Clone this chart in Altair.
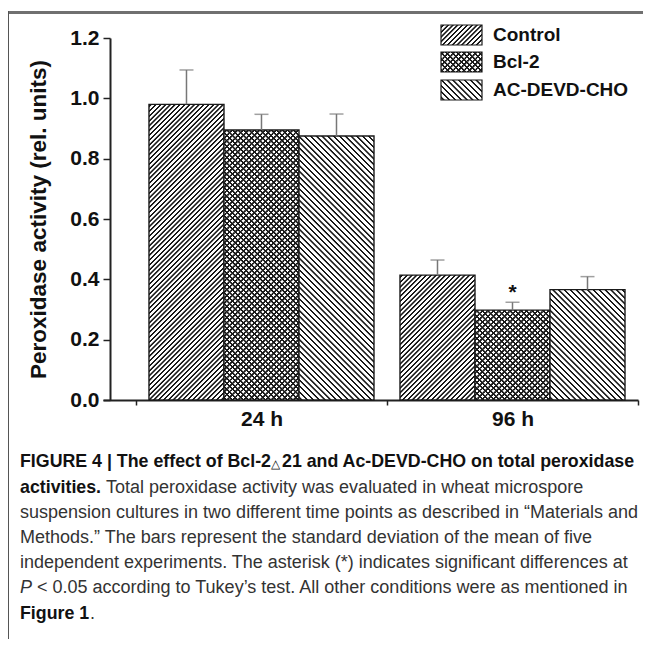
import math
import altair as alt
import pandas as pd

# ---------------- data ----------------
groups = ["24 h", "96 h"]
series = ["Control", "Bcl-2", "AC-DEVD-CHO"]
means_24h = [0.980, 0.895, 0.875]
means_96h = [0.414, 0.298, 0.366]
sd_24h = [0.114, 0.052, 0.073]
sd_96h = [0.050, 0.026, 0.043]
significant = [("96 h", "Bcl-2")]
y_ticks = [0.0, 0.2, 0.4, 0.6, 0.8, 1.0, 1.2]
y_title = "Peroxidase activity (rel. units)"

cap_line1a = "FIGURE 4 | The effect of Bcl-2"
cap_line1_tri = "\u25b3"
cap_line1b = "21 and Ac-DEVD-CHO on total peroxidase"
cap_line2_bold = "activities."
cap_line2 = "Total peroxidase activity was evaluated in wheat microspore"
cap_line3 = "suspension cultures in two different time points as described in \u201cMaterials and"
cap_line4 = "Methods.\u201d The bars represent the standard deviation of the mean of five"
cap_line5 = "independent experiments. The asterisk (*) indicates significant differences at"
cap_line6_it = "P"
cap_line6 = "< 0.05 according to Tukey\u2019s test. All other conditions were as mentioned in"
cap_line7_bold = "Figure 1"
cap_line7 = "."

rows = []
for g, ms, ss in zip(groups, [means_24h, means_96h], [sd_24h, sd_96h]):
    for s, m, e in zip(series, ms, ss):
        rows.append({"time": g, "treatment": s, "mean": m, "upper": m + e})
df = pd.DataFrame(rows)

# ---------------- layout / style ----------------
W, H = 535, 362
YMAX = 1.2
P_GROUP = 0.0657
P_BAR = 0.1733
group_step = W / (2 + 2 * P_GROUP)
bar_w = group_step / (3 + 2 * P_BAR)
FONT = "Liberation Sans"
INK = "#1a1a1a"
TRANSPARENT = "rgba(255,255,255,0)"

patterns = {
    "Control": [("/", 3.4, 1.1)],
    "Bcl-2": [("/", 3.9, 1.25), ("\\", 3.9, 1.25)],
    "AC-DEVD-CHO": [("\\", 4.1, 1.1)],
}


def hatch(w, h, direction, period, lw, bg, fg=INK, ramp=0.4):
    s = (w * w + h * h) / (w + h)
    a, b = w / s, h / s
    L = (w + h) / math.sqrt(2)
    stops = [{"offset": 0.0, "color": bg}]
    pos = period / 2.0
    while pos + lw / 2 + ramp < L:
        o0 = (pos - lw / 2 - ramp) / L
        o1 = (pos - lw / 2) / L
        o2 = (pos + lw / 2) / L
        o3 = (pos + lw / 2 + ramp) / L
        stops += [
            {"offset": round(max(o0, 0.0), 5), "color": bg},
            {"offset": round(max(o1, 0.0), 5), "color": fg},
            {"offset": round(o2, 5), "color": fg},
            {"offset": round(o3, 5), "color": bg},
        ]
        pos += period
    stops.append({"offset": 1.0, "color": bg})
    if direction == "/":
        g = dict(x1=0, y1=0, x2=round(a, 5), y2=round(b, 5))
    else:
        g = dict(x1=0, y1=1, x2=round(a, 5), y2=round(1 - b, 5))
    return {"gradient": "linear", **g, "stops": stops}


x_axis = alt.Axis(
    title=None, labelAngle=0, tickBand="extent", grid=False,
    domainColor="#222", domainWidth=2, tickColor="#222", tickWidth=1.5,
    tickSize=5, labelFont=FONT, labelFontSize=21, labelFontWeight="bold",
    labelColor="#111", labelPadding=3,
)
y_axis = alt.Axis(
    values=y_ticks, format=".1f", title=y_title, offset=-7, grid=False,
    domainColor="#222", domainWidth=2, tickColor="#222", tickWidth=1.5,
    tickSize=7, labelFont=FONT, labelFontSize=21, labelFontWeight="bold",
    labelColor="#111", labelPadding=4, titleFont=FONT, titleFontSize=22.5,
    titleFontWeight="bold", titleColor="#111", titlePadding=19,
)
y_scale = alt.Scale(domain=[0, YMAX], nice=False, zero=True)

X = alt.X("time:N", scale=alt.Scale(domain=groups, paddingInner=0, paddingOuter=P_GROUP, align=1), axis=x_axis)
XO = alt.XOffset("treatment:N", scale=alt.Scale(domain=series, paddingInner=0, paddingOuter=P_BAR))
Y = alt.Y("mean:Q", scale=y_scale, axis=y_axis)
YU = alt.Y("upper:Q", scale=y_scale, axis=y_axis)

layers = []

# frame lines (figure border, top and left) drawn first, behind everything
layers.append(
    alt.Chart(pd.DataFrame({"k": [0]})).mark_rect(color="#707070")
    .encode(x=alt.value(-94), x2=alt.value(540), y=alt.value(-27), y2=alt.value(-24))
)
layers.append(
    alt.Chart(pd.DataFrame({"k": [0]})).mark_rect(color="#555")
    .encode(x=alt.value(-95), x2=alt.value(-94), y=alt.value(-27), y2=alt.value(601))
)

# bars, one layer per bar (each with its own hatch gradient)
for _, r in df.iterrows():
    one = df[(df["time"] == r["time"]) & (df["treatment"] == r["treatment"])]
    h = r["mean"] / YMAX * H
    pats = patterns[r["treatment"]]
    for i, (d, per, lw) in enumerate(pats):
        bg = "#ffffff" if i == 0 else TRANSPARENT
        last = i == len(pats) - 1
        kw = dict(stroke=INK, strokeWidth=1.4) if last else dict(strokeWidth=0)
        layers.append(
            alt.Chart(one).mark_bar(fill=hatch(bar_w, h, d, per, lw, bg), **kw)
            .encode(x=X, xOffset=XO, y=Y)
        )

# error bars (upper only)
err = alt.Chart(df).mark_rule(color="#777", strokeWidth=1.5).encode(
    x=X, xOffset=XO, y=Y, y2=alt.Y2("upper:Q")
)
caps = alt.Chart(df).mark_tick(color="#777", thickness=1.5, size=14).encode(
    x=X, xOffset=XO, y=YU
)
sig_df = df[df.apply(lambda r: (r["time"], r["treatment"]) in significant, axis=1)]
star = alt.Chart(sig_df).mark_text(
    text="*", font=FONT, fontSize=21, fontWeight="bold", color="#111",
    baseline="alphabetic", dy=-3.5,
).encode(x=X, xOffset=XO, y=YU)
layers += [err, caps, star]

# legend (manual, hatched swatches)
leg_top = [-13, 14, 42]
for s, yt in zip(series, leg_top):
    pats = patterns[s]
    for i, (d, per, lw) in enumerate(pats):
        bg = "#ffffff" if i == 0 else TRANSPARENT
        last = i == len(pats) - 1
        kw = dict(stroke=INK, strokeWidth=1.2) if last else dict(strokeWidth=0)
        layers.append(
            alt.Chart(pd.DataFrame({"treatment": [s]}))
            .mark_rect(fill=hatch(41, 20, d, per, lw, bg), **kw)
            .encode(x=alt.value(338), x2=alt.value(379), y=alt.value(yt), y2=alt.value(yt + 20))
        )
    layers.append(
        alt.Chart(pd.DataFrame({"treatment": [s]}))
        .mark_text(align="left", baseline="middle", font=FONT, fontSize=19, fontWeight="bold", color="#111")
        .encode(text="treatment:N", x=alt.value(390), y=alt.value(yt + 10))
    )

# caption
CAP_B = 17.8
CAP_R = 18


def cap(text, x, y, weight="normal", style="normal", color="#333", size=CAP_R):
    return (
        alt.Chart(pd.DataFrame({"t": [text]}))
        .mark_text(align="left", baseline="middle", font=FONT, fontSize=size,
                   fontWeight=weight, fontStyle=style, color=color)
        .encode(text="t:N", x=alt.value(x), y=alt.value(y))
    )


cx = -83
layers += [
    cap(cap_line1a, cx, 424, "bold", color="#111", size=CAP_B),
    cap(cap_line1_tri, cx + 251, 426, color="#111", size=12),
    cap(cap_line1b, cx + 262, 424, "bold", color="#111", size=CAP_B),
    cap(cap_line2_bold, cx, 450, "bold", color="#111", size=CAP_B),
    cap(cap_line2, cx + 86, 450),
    cap(cap_line3, cx, 475),
    cap(cap_line4, cx, 500),
    cap(cap_line5, cx, 525),
    cap(cap_line6_it, cx, 550, style="italic"),
    cap(cap_line6, cx + 17, 550),
    cap(cap_line7_bold, cx, 576, "bold", color="#111", size=CAP_B),
    cap(cap_line7, cx + 70, 576),
]

chart = (
    alt.layer(*layers)
    .properties(
        width=W, height=H, autosize="none",
        padding={"left": 95, "top": 30, "right": 11, "bottom": 239},
        background="white",
    )
    .configure_view(stroke=None)
)

chart.save("out.html", embed_options={"renderer": "svg", "actions": False})
